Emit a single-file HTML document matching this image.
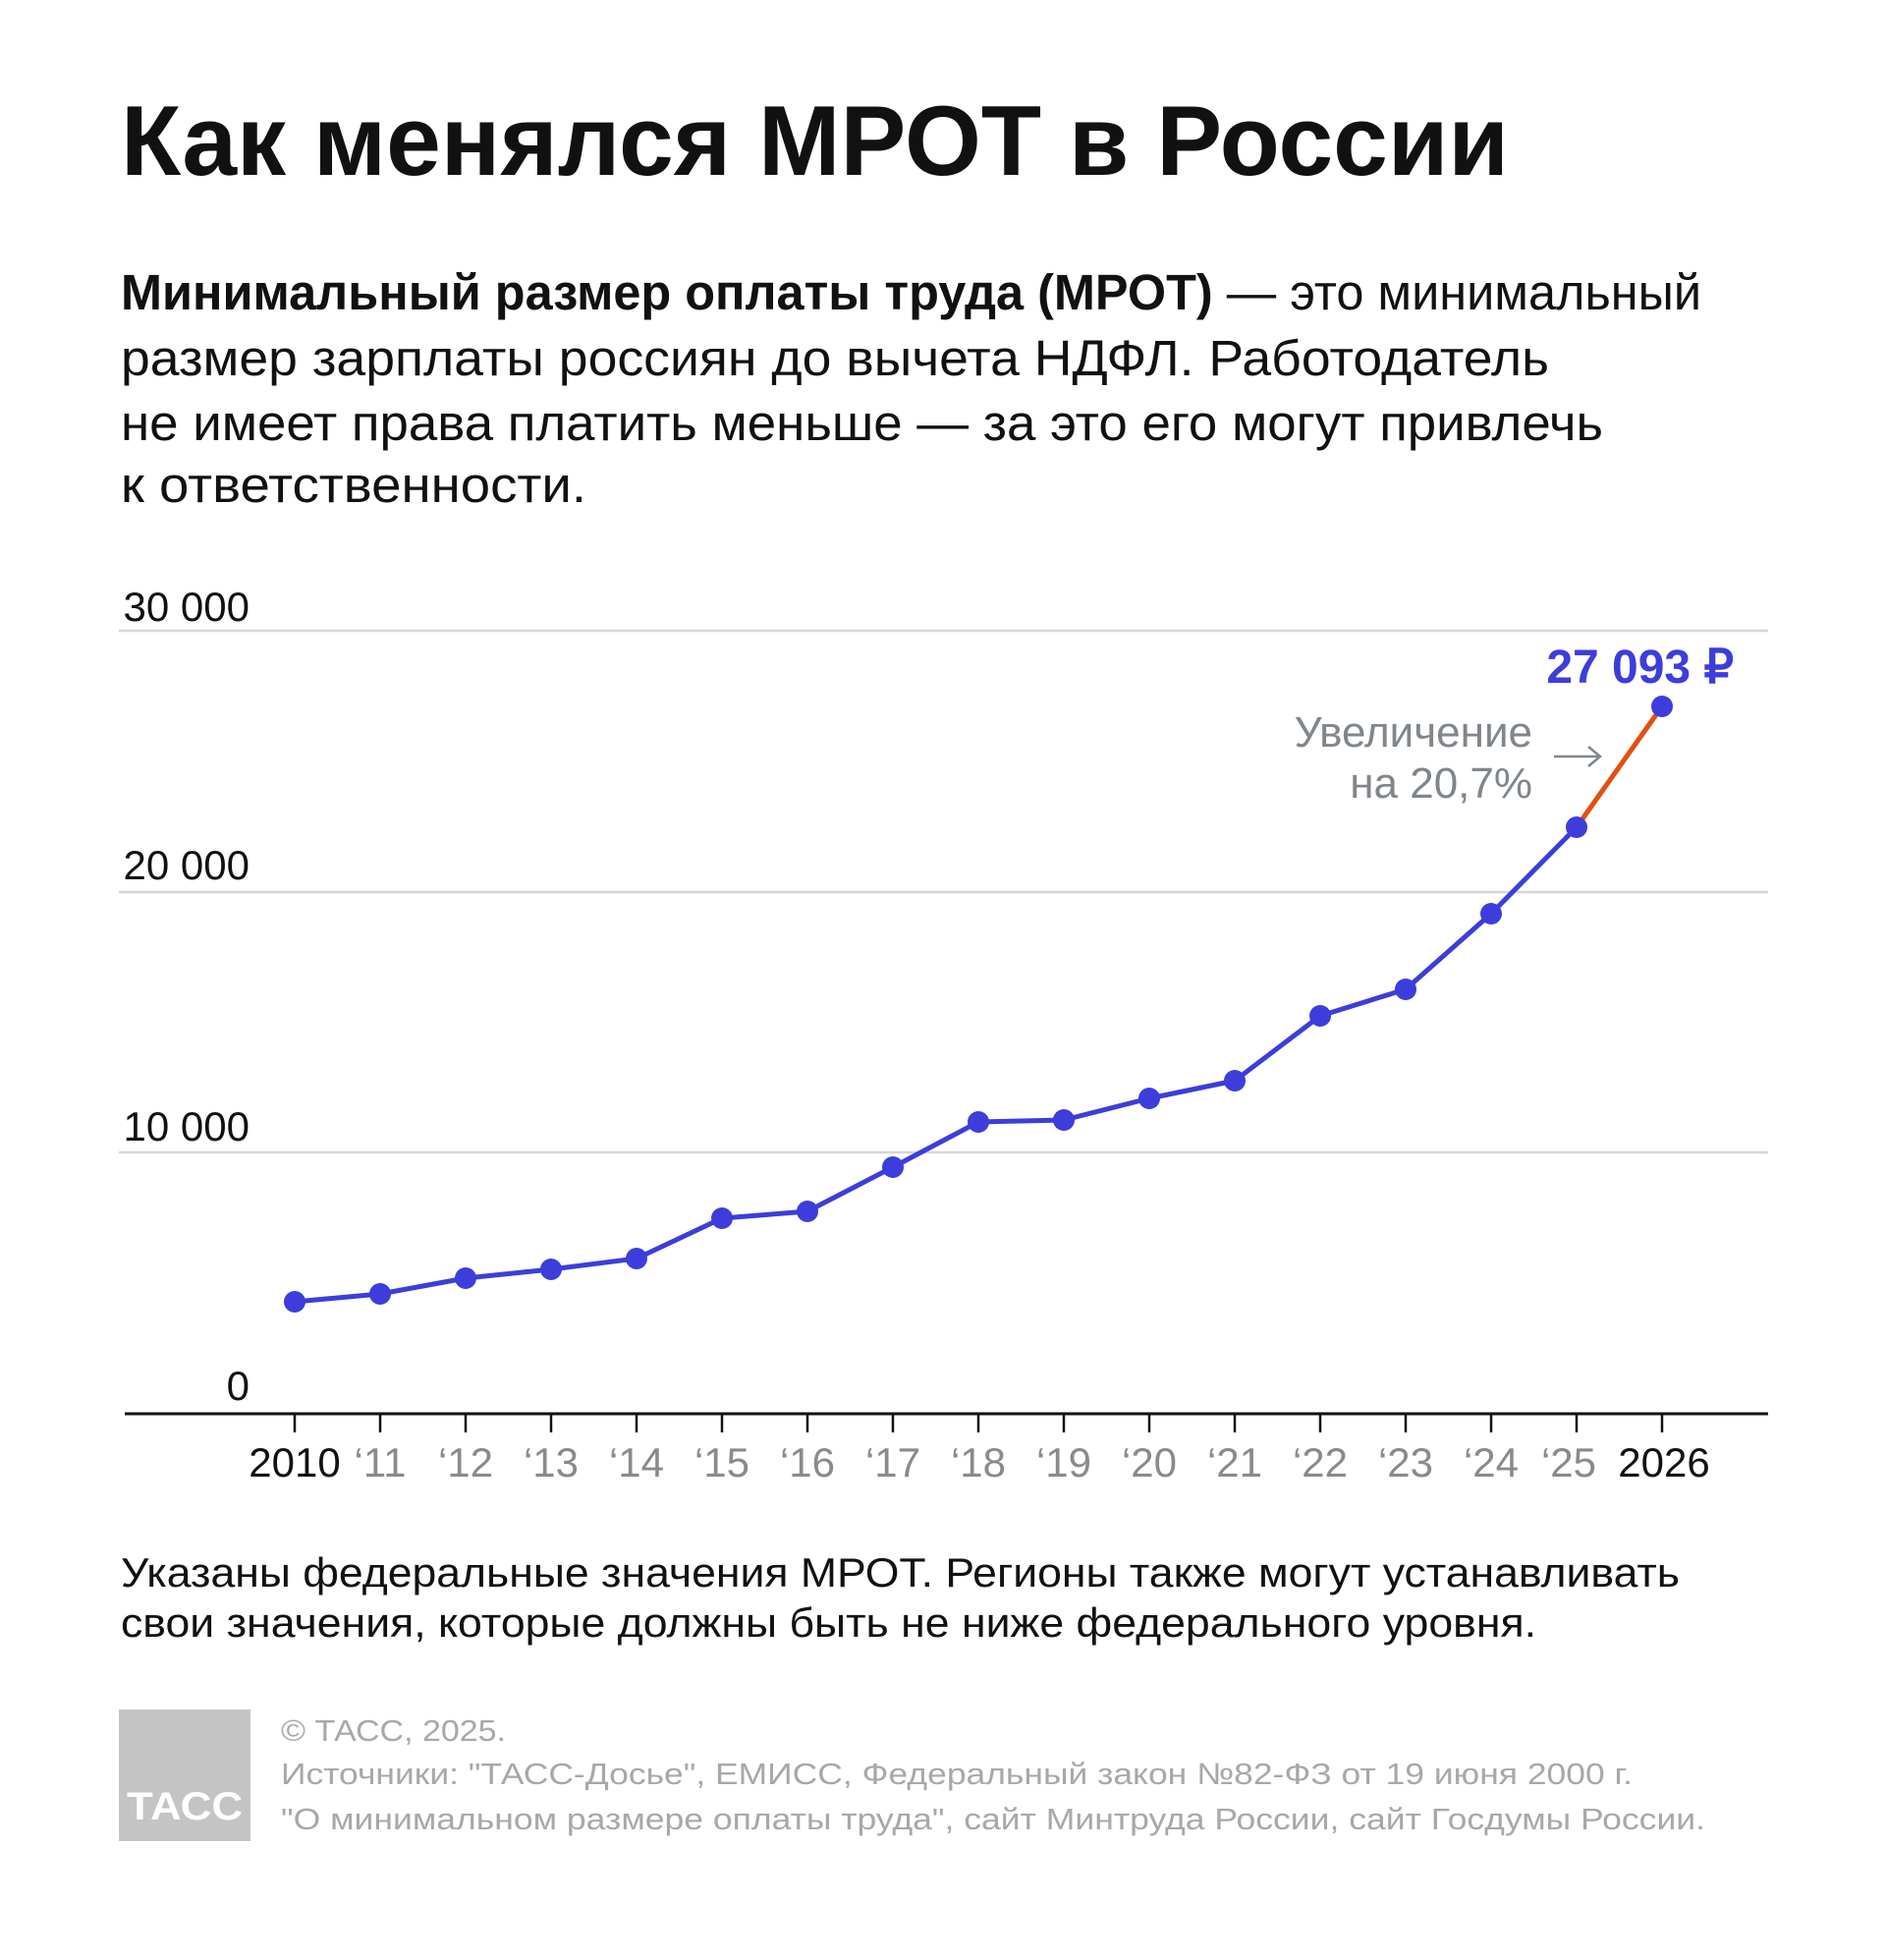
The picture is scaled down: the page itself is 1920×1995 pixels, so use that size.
<!DOCTYPE html>
<html><head><meta charset="utf-8"><style>
html,body{margin:0;padding:0;background:#fff;}
svg{display:block;}
text{font-family:"Liberation Sans",sans-serif;}
</style></head><body>
<svg width="1920" height="1995" viewBox="0 0 1920 1995" xmlns="http://www.w3.org/2000/svg">
<rect width="1920" height="1995" fill="#fff"/>
<text x="123" y="178" font-size="101" font-weight="bold" fill="#111" textLength="1413" lengthAdjust="spacingAndGlyphs">Как менялся МРОТ в России</text>
<text x="123" y="315" font-size="51" fill="#111" textLength="1609" lengthAdjust="spacingAndGlyphs"><tspan font-weight="bold">Минимальный размер оплаты труда (МРОТ)</tspan> — это минимальный</text>
<text x="123" y="382" font-size="51" fill="#111" textLength="1454" lengthAdjust="spacingAndGlyphs">размер зарплаты россиян до вычета НДФЛ. Работодатель</text>
<text x="123" y="448" font-size="51" fill="#111" textLength="1509" lengthAdjust="spacingAndGlyphs">не имеет права платить меньше — за это его могут привлечь</text>
<text x="123" y="511" font-size="51" fill="#111" textLength="474" lengthAdjust="spacingAndGlyphs">к ответственности.</text>

<g stroke="#d6d6d6" stroke-width="2.5">
<line x1="121" y1="642" x2="1800" y2="642"/>
<line x1="121" y1="908" x2="1800" y2="908"/>
<line x1="121" y1="1173" x2="1800" y2="1173"/>
</g>
<g font-size="42" fill="#111" text-anchor="end">
<text x="254" y="632">30 000</text>
<text x="254" y="895">20 000</text>
<text x="254" y="1161">10 000</text>
<text x="254" y="1425">0</text>
</g>
<line x1="127" y1="1439" x2="1800" y2="1439" stroke="#111" stroke-width="3"/>
<g stroke="#111" stroke-width="2.5">
<line x1="300" y1="1439" x2="300" y2="1458"/><line x1="387" y1="1439" x2="387" y2="1458"/><line x1="474" y1="1439" x2="474" y2="1458"/><line x1="561" y1="1439" x2="561" y2="1458"/><line x1="648" y1="1439" x2="648" y2="1458"/><line x1="735" y1="1439" x2="735" y2="1458"/><line x1="822" y1="1439" x2="822" y2="1458"/><line x1="909" y1="1439" x2="909" y2="1458"/><line x1="996" y1="1439" x2="996" y2="1458"/><line x1="1083" y1="1439" x2="1083" y2="1458"/><line x1="1170" y1="1439" x2="1170" y2="1458"/><line x1="1257" y1="1439" x2="1257" y2="1458"/><line x1="1344" y1="1439" x2="1344" y2="1458"/><line x1="1431" y1="1439" x2="1431" y2="1458"/><line x1="1518" y1="1439" x2="1518" y2="1458"/><line x1="1605" y1="1439" x2="1605" y2="1458"/><line x1="1692" y1="1439" x2="1692" y2="1458"/>
</g>
<g font-size="42" text-anchor="middle" fill="#8a8a8a">
<text x="300" y="1503" fill="#111">2010</text>
<text x="387" y="1503">‘11</text><text x="474" y="1503">‘12</text><text x="561" y="1503">‘13</text><text x="648" y="1503">‘14</text><text x="735" y="1503">‘15</text><text x="822" y="1503">‘16</text><text x="909" y="1503">‘17</text><text x="996" y="1503">‘18</text><text x="1083" y="1503">‘19</text><text x="1170" y="1503">‘20</text><text x="1257" y="1503">‘21</text><text x="1344" y="1503">‘22</text><text x="1431" y="1503">‘23</text><text x="1518" y="1503">‘24</text><text x="1597" y="1503">‘25</text>
<text x="1694" y="1503" fill="#111">2026</text>
</g>

<line x1="1605" y1="842" x2="1692" y2="719" stroke="#e2500f" stroke-width="5"/>
<polyline fill="none" stroke="#3d3ddb" stroke-width="5" stroke-linejoin="round" points="300,1325 387,1317 474,1301 561,1292 648,1281 735,1240 822,1233 909,1188 996,1142 1083,1140 1170,1118 1257,1100 1344,1034 1431,1007 1518,930 1605,842"/>
<g fill="#3d3ddb">
<circle cx="300" cy="1325" r="11"/><circle cx="387" cy="1317" r="11"/><circle cx="474" cy="1301" r="11"/><circle cx="561" cy="1292" r="11"/><circle cx="648" cy="1281" r="11"/><circle cx="735" cy="1240" r="11"/><circle cx="822" cy="1233" r="11"/><circle cx="909" cy="1188" r="11"/><circle cx="996" cy="1142" r="11"/><circle cx="1083" cy="1140" r="11"/><circle cx="1170" cy="1118" r="11"/><circle cx="1257" cy="1100" r="11"/><circle cx="1344" cy="1034" r="11"/><circle cx="1431" cy="1007" r="11"/><circle cx="1518" cy="930" r="11"/><circle cx="1605" cy="842" r="11"/><circle cx="1692" cy="719" r="11"/>
</g>
<text x="1765" y="695" font-size="48" font-weight="bold" fill="#3d3ddb" text-anchor="end">27 093 ₽</text>
<text x="1560" y="760" font-size="44" fill="#80868b" text-anchor="end">Увеличение</text>
<text x="1560" y="812" font-size="44" fill="#80868b" text-anchor="end">на 20,7%</text>
<g stroke="#80868b" stroke-width="2.5" fill="none">
<line x1="1582" y1="770" x2="1629" y2="770"/>
<polyline points="1617,760 1629,770 1617,780"/>
</g>

<text x="123" y="1615" font-size="42" fill="#111" textLength="1587" lengthAdjust="spacingAndGlyphs">Указаны федеральные значения МРОТ. Регионы также могут устанавливать</text>
<text x="123" y="1666" font-size="42" fill="#111" textLength="1441" lengthAdjust="spacingAndGlyphs">свои значения, которые должны быть не ниже федерального уровня.</text>

<rect x="121" y="1740" width="134" height="134" fill="#c4c4c4"/>
<text x="188" y="1852" font-size="40" font-weight="bold" fill="#fff" text-anchor="middle" textLength="118" lengthAdjust="spacingAndGlyphs">ТАСС</text>
<g font-size="31" fill="#a8a8a8">
<text x="286" y="1772" textLength="229" lengthAdjust="spacingAndGlyphs">© ТАСС, 2025.</text>
<text x="286" y="1816" textLength="1376" lengthAdjust="spacingAndGlyphs">Источники: "ТАСС-Досье", ЕМИСС, Федеральный закон №82-ФЗ от 19 июня 2000 г.</text>
<text x="286" y="1862" textLength="1450" lengthAdjust="spacingAndGlyphs">"О минимальном размере оплаты труда", сайт Минтруда России, сайт Госдумы России.</text>
</g>
</svg>
</body></html>
